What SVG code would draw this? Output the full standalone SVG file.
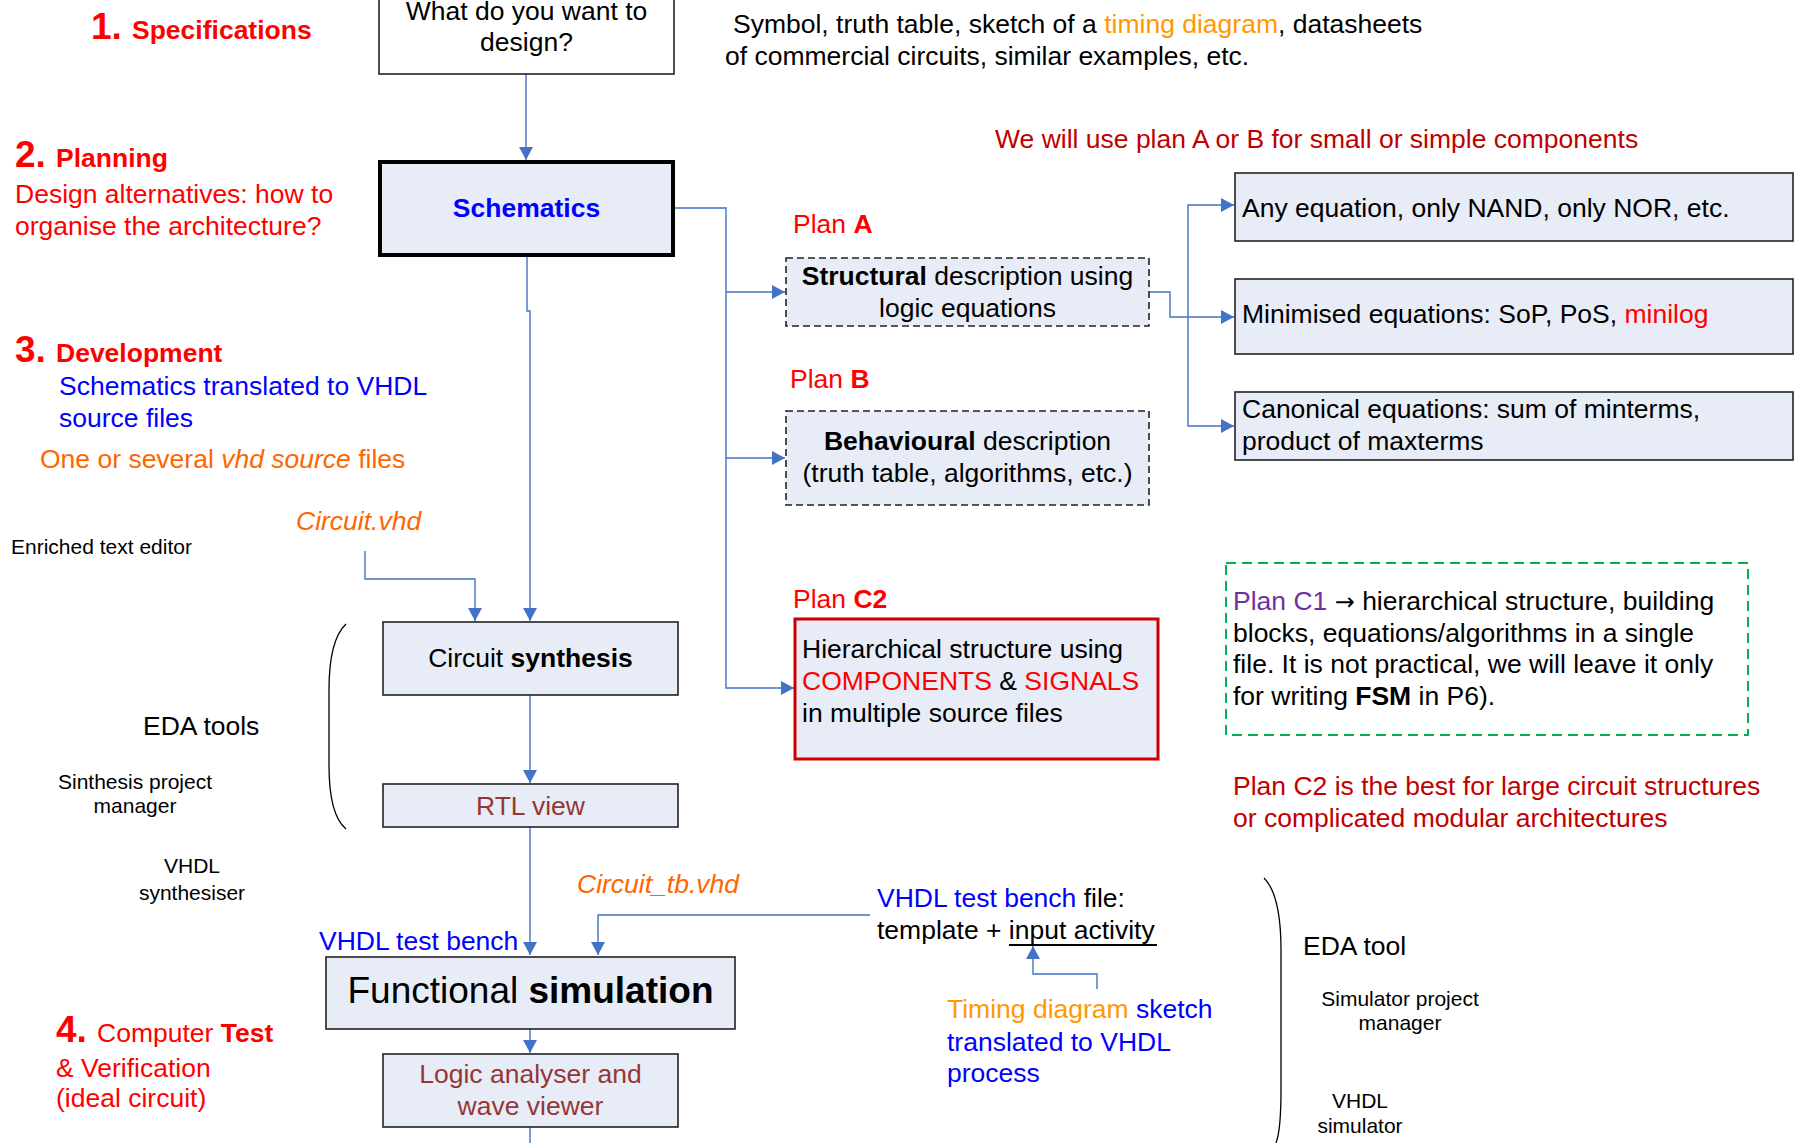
<svg xmlns="http://www.w3.org/2000/svg" width="1801" height="1143" viewBox="0 0 1801 1143">
<style>
text{font-family:"Liberation Sans",Arial,sans-serif;font-size:26.5px;fill:#000}
.b{font-weight:bold}
.i{font-style:italic}
.red{fill:#FF0000}
.dred{fill:#C00000}
.blue{fill:#0000FF}
.or{fill:#FF6600}
.lor{fill:#FF9900}
.brn{fill:#953735}
.pur{fill:#7030A0}
.sm{font-size:21px}
.big{font-size:37px;font-weight:bold}
.mid{text-anchor:middle}
.box{fill:#E7ECF7;stroke:#222;stroke-width:1.6}
.dash{fill:#E7ECF7;stroke:#222;stroke-width:1.6;stroke-dasharray:7 4}
.con{fill:none;stroke:#4472C4;stroke-width:1.4}
.arr{marker-end:url(#ah)}
.brace{fill:none;stroke:#000;stroke-width:1.3}
</style>
<defs>
<marker id="ah" markerUnits="userSpaceOnUse" markerWidth="14" markerHeight="14" refX="13" refY="7" orient="auto">
<path d="M0,0 L13,7 L0,14 z" fill="#4472C4"/>
</marker>
</defs>
<rect width="1801" height="1143" fill="#fff"/>

<g id="connectors">
<path class="con arr" d="M526 74 V160"/>
<path class="con arr" d="M527 255 V311 H530 V621"/>
<path class="con arr" d="M365 551 V579 H475 V621"/>
<path class="con arr" d="M530 695 V783"/>
<path class="con arr" d="M530 827 V955"/>
<path class="con arr" d="M870 915 H598 V955"/>
<path class="con arr" d="M530 1029 V1053"/>
<path class="con" d="M530 1127 V1143"/>
<path class="con arr" d="M674 208 H726 V688 H794"/>
<path class="con arr" d="M726 292 H785"/>
<path class="con arr" d="M726 458 H785"/>
<path class="con arr" d="M1149 292 H1170 V317 H1234"/>
<path class="con arr" d="M1188 317 V205 H1234"/>
<path class="con arr" d="M1188 317 V426 H1234"/>
<path class="con arr" d="M1097 989 V974 H1033 V946"/>
</g>

<g id="node-specification">
<rect x="379" y="-10" width="295" height="84" fill="#fff" stroke="#222" stroke-width="1.6"/>
<text class="mid" x="526.5" y="20">What do you want to</text>
<text class="mid" x="526.5" y="51">design?</text>
</g>

<g id="node-schematics">
<rect x="380" y="162" width="293" height="93" fill="#E7ECF7" stroke="#000" stroke-width="4"/>
<text class="mid b blue" x="526.5" y="217">Schematics</text>
</g>

<g id="node-synthesis">
<rect class="box" x="383" y="622" width="295" height="73"/>
<text class="mid" x="530.5" y="667">Circuit <tspan class="b">synthesis</tspan></text>
</g>

<g id="node-rtl">
<rect class="box" x="383" y="784" width="295" height="43"/>
<text class="mid brn" x="530.5" y="815">RTL view</text>
</g>

<g id="node-functional">
<rect class="box" x="326" y="957" width="409" height="72"/>
<text class="mid" x="530.5" y="1003" style="font-size:37px">Functional <tspan class="b">simulation</tspan></text>
</g>

<g id="node-logic">
<rect class="box" x="383" y="1054" width="295" height="73"/>
<text class="mid brn" x="530.5" y="1083">Logic analyser and</text>
<text class="mid brn" x="530.5" y="1115">wave viewer</text>
</g>

<g id="node-structural">
<rect class="dash" x="786" y="258" width="363" height="68"/>
<text class="mid" x="967.5" y="285"><tspan class="b">Structural</tspan> description using</text>
<text class="mid" x="967.5" y="317">logic equations</text>
</g>

<g id="node-behavioural">
<rect class="dash" x="786" y="411" width="363" height="94"/>
<text class="mid" x="967.5" y="450"><tspan class="b">Behavioural</tspan> description</text>
<text class="mid" x="967.5" y="482">(truth table, algorithms, etc.)</text>
</g>

<g id="node-c2">
<rect x="795" y="619" width="363" height="140" fill="#E7ECF7" stroke="#CC0000" stroke-width="3"/>
<text x="802" y="658">Hierarchical structure using</text>
<text x="802" y="690"><tspan class="red">COMPONENTS</tspan> &amp; <tspan class="red">SIGNALS</tspan></text>
<text x="802" y="722">in multiple source files</text>
</g>

<g id="node-any">
<rect class="box" x="1235" y="173" width="558" height="68"/>
<text x="1242" y="217">Any equation, only NAND, only NOR, etc.</text>
</g>

<g id="node-minimised">
<rect class="box" x="1235" y="279" width="558" height="75"/>
<text x="1242" y="323">Minimised equations: SoP, PoS, <tspan class="red">minilog</tspan></text>
</g>

<g id="node-canonical">
<rect class="box" x="1235" y="392" width="558" height="68"/>
<text x="1242" y="418">Canonical equations: sum of minterms,</text>
<text x="1242" y="450">product of maxterms</text>
</g>

<g id="node-c1">
<rect x="1226" y="563" width="522" height="172" fill="none" stroke="#00B050" stroke-width="2" stroke-dasharray="10 6"/>
<text x="1233" y="610"><tspan class="pur">Plan C1</tspan> <tspan style="font-family:'DejaVu Sans',sans-serif;font-size:24px">→</tspan> hierarchical structure, building</text>
<text x="1233" y="642">blocks, equations/algorithms in a single</text>
<text x="1233" y="673">file. It is not practical, we will leave it only</text>
<text x="1233" y="705">for writing <tspan class="b">FSM</tspan> in P6).</text>
</g>

<g id="labels">
<text class="red" x="91" y="39"><tspan class="big">1.</tspan></text>
<text class="red b" x="132" y="39">Specifications</text>
<text class="red" x="15" y="167"><tspan class="big">2.</tspan></text>
<text class="red b" x="56" y="167">Planning</text>
<text class="red" x="15" y="203">Design alternatives: how to</text>
<text class="red" x="15" y="235">organise the architecture?</text>
<text class="red" x="15" y="362"><tspan class="big">3.</tspan></text>
<text class="red b" x="56" y="362">Development</text>
<text class="blue" x="59" y="395">Schematics translated to VHDL</text>
<text class="blue" x="59" y="427">source files</text>
<text class="or" x="40" y="468">One or several <tspan class="i">vhd source</tspan> files</text>
<text class="or i" x="296" y="530">Circuit.vhd</text>
<text class="sm" x="11" y="554">Enriched text editor</text>
<text x="143" y="735">EDA tools</text>
<text class="sm mid" x="135" y="789">Sinthesis project</text>
<text class="sm mid" x="135" y="813">manager</text>
<text class="sm mid" x="192" y="873">VHDL</text>
<text class="sm mid" x="192" y="900">synthesiser</text>
<text class="blue" x="319" y="950">VHDL test bench</text>
<text class="or i" x="577" y="893">Circuit_tb.vhd</text>
<text class="red" x="56" y="1042"><tspan class="big">4.</tspan></text>
<text class="red" x="97" y="1042">Computer <tspan class="b">Test</tspan></text>
<text class="red" x="56" y="1077">&amp; Verification</text>
<text class="red" x="56" y="1107">(ideal circuit)</text>

<text x="733" y="33">Symbol, truth table, sketch of a <tspan class="lor">timing diagram</tspan>, datasheets</text>
<text x="725" y="65">of commercial circuits, similar examples, etc.</text>
<text class="dred" x="995" y="148">We will use plan A or B for small or simple components</text>
<text class="red" x="793" y="233">Plan <tspan class="b">A</tspan></text>
<text class="red" x="790" y="388">Plan <tspan class="b">B</tspan></text>
<text class="red" x="793" y="608">Plan <tspan class="b">C2</tspan></text>
<text class="dred" x="1233" y="795">Plan C2 is the best for large circuit structures</text>
<text class="dred" x="1233" y="827">or complicated modular architectures</text>

<text x="877" y="907"><tspan class="blue">VHDL test bench</tspan> file:</text>
<text x="877" y="939">template + input activity</text>
<line x1="1009" y1="945" x2="1157" y2="945" stroke="#000" stroke-width="2"/>
<text x="947" y="1018"><tspan class="lor">Timing diagram</tspan><tspan class="blue"> sketch</tspan></text>
<text class="blue" x="947" y="1051">translated to VHDL</text>
<text class="blue" x="947" y="1082">process</text>
<text x="1303" y="955">EDA tool</text>
<text class="sm mid" x="1400" y="1006">Simulator project</text>
<text class="sm mid" x="1400" y="1030">manager</text>
<text class="sm mid" x="1360" y="1108">VHDL</text>
<text class="sm mid" x="1360" y="1133">simulator</text>

<path class="brace" d="M346 624 Q329 640 329 690 L329 765 Q329 815 346 829"/>
<path class="brace" d="M1264 878 Q1281 895 1281 950 L1281 1090 Q1281 1130 1276 1143"/>
</g>
</svg>
